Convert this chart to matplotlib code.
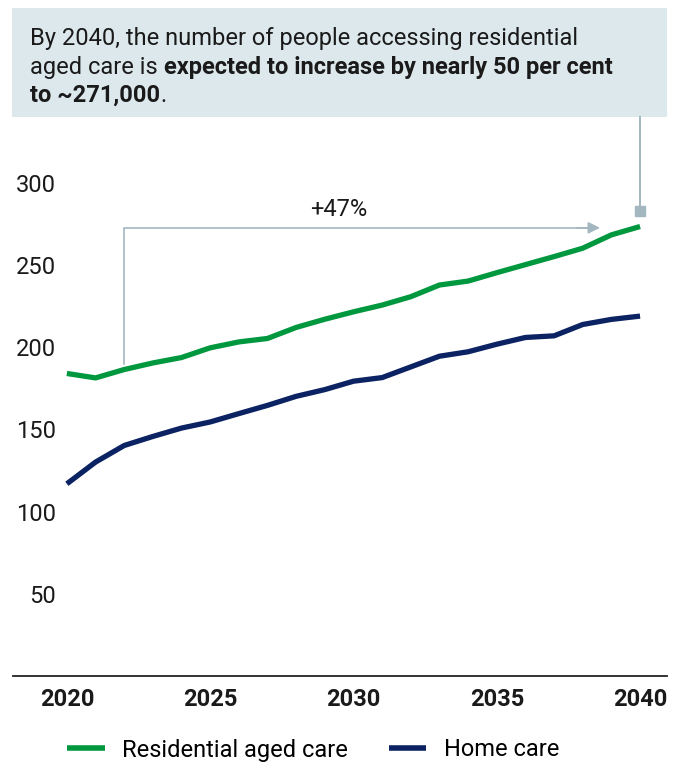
import matplotlib
matplotlib.use("Agg")
import matplotlib.pyplot as plt
from matplotlib.patches import Rectangle

plt.rcParams['font.family'] = ['Roboto', 'DejaVu Sans']

# projected people accessing care, thousands
years = list(range(2020, 2041))
residential = [184.0, 181.3, 186.4, 190.4, 193.7, 199.6, 203.2, 205.3, 212.0, 217.0,
               221.5, 225.6, 230.7, 237.8, 240.2, 245.3, 250.2, 255.1, 260.2, 268.3, 273.4]
home_care = [116.9, 130.1, 140.2, 145.7, 150.8, 154.5, 159.6, 164.6, 170.1, 174.2,
             179.3, 181.5, 188.0, 194.5, 197.2, 201.8, 205.9, 206.9, 213.8, 216.9, 218.9]

y_ticks = [50, 100, 150, 200, 250, 300]
x_ticks = [2020, 2025, 2030, 2035, 2040]

GREEN = '#00983f'
NAVY = '#0b2263'
GUIDE = '#a3b7c1'
BOX = '#dde8ec'
INK = '#1a1a1a'
FS = 17

W, H = 682, 762
fig = plt.figure(figsize=(W / 100, H / 100), dpi=100)
ax = fig.add_axes([13 / W, (H - 676) / H, (667 - 13) / W, (676 - 117) / H])

ax.plot(years, residential, color=GREEN, lw=3.8, label='Residential aged care', solid_capstyle='butt')
ax.plot(years, home_care, color=NAVY, lw=3.8, label='Home care', solid_capstyle='butt')

ax.set_xlim(2018.12, 2040.94)
ax.set_ylim(0, 340)

for s in ['top', 'right', 'left']:
    ax.spines[s].set_visible(False)
ax.spines['bottom'].set_linewidth(1.3)
ax.spines['bottom'].set_color('#222222')

ax.set_yticks(y_ticks)
ax.tick_params(axis='y', length=0, pad=-31, labelsize=FS, labelcolor=INK)
for lbl in ax.get_yticklabels():
    lbl.set_horizontalalignment('right')
ax.set_xticks(x_ticks)
ax.tick_params(axis='x', length=0, pad=9, labelsize=FS, labelcolor=INK)
for lbl in ax.get_xticklabels():
    lbl.set_fontweight('bold')

# growth bracket from 2022 to the 2040 level
ax.plot([2022, 2022, 2038.2], [189.6, 272.6, 272.6], color=GUIDE, lw=1.2)
ax.annotate('', xy=(2038.6, 272.6), xytext=(2037.8, 272.6),
            arrowprops=dict(arrowstyle='-|>,head_length=0.7,head_width=0.35',
                            color=GUIDE, lw=1.2, shrinkA=0, shrinkB=0))
ax.text(2029.5, 283.5, '+47%', ha='center', va='center', fontsize=FS, color=INK)

# connector from callout box down to the 2040 marker
ax.plot([2040, 2040], [283, 340], color=GUIDE, lw=1.4, clip_on=False)
ax.plot([2040], [283], marker='s', ms=6.5, color=GUIDE, clip_on=False)

# callout box
fig.patches.append(Rectangle((12 / W, 1 - 117 / H), (667 - 12) / W, (117 - 8) / H,
                             transform=fig.transFigure, facecolor=BOX, edgecolor='none', zorder=-1))
t1 = fig.text(30 / W, 1 - 45 / H, 'By 2040, the number of people accessing residential',
              fontsize=FS, color=INK, va='baseline')
t2 = fig.text(30 / W, 1 - 74 / H, 'aged care is ', fontsize=FS, color=INK, va='baseline')
ax.annotate('expected to increase by nearly 50 per cent', xy=(1, 0), xycoords=t2,
            va='bottom', fontsize=FS, fontweight='bold', color=INK, annotation_clip=False)
t3 = fig.text(30 / W, 1 - 102 / H, 'to ~271,000', fontsize=FS, fontweight='bold',
              color=INK, va='baseline')
ax.annotate('.', xy=(1, 0), xycoords=t3, va='bottom', fontsize=FS, color=INK,
            annotation_clip=False)

leg = fig.legend(loc='center left', bbox_to_anchor=(67 / W, 1 - 750 / H), ncol=2, frameon=False,
                 fontsize=FS, handlelength=1.6, handletextpad=0.75, columnspacing=1.7,
                 borderpad=0, borderaxespad=0)
for line in leg.get_lines():
    line.set_linewidth(4)

fig.savefig('out.png', dpi=100)
